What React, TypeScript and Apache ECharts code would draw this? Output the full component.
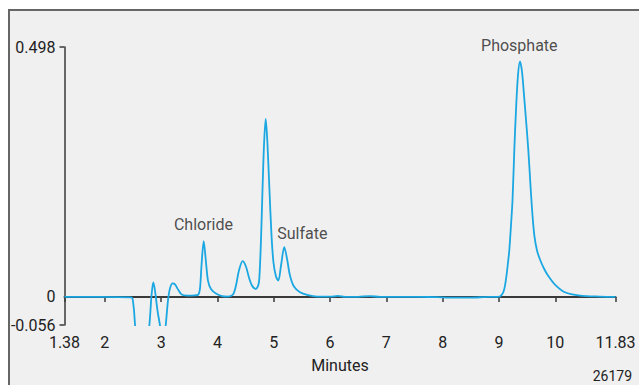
import React, { useEffect, useRef } from "react";
import * as echarts from "echarts";

// Retention time (minutes) and detector response
const TIME = [
  1.284, 1.91, 2.465, 2.491, 2.518, 2.545, 2.6, 2.65, 2.72, 2.79, 2.829, 2.861, 2.891, 2.935, 2.98,
  3.033, 3.081, 3.122, 3.157, 3.205, 3.246, 3.299, 3.365, 3.459, 3.601, 3.66, 3.69, 3.717, 3.756,
  3.797, 3.832, 3.885, 3.974, 4.081, 4.187, 4.276, 4.329, 4.382, 4.448, 4.506, 4.56, 4.613, 4.679,
  4.729, 4.747, 4.773, 4.8, 4.827, 4.857, 4.885, 4.924, 4.96, 4.995, 5.04, 5.081, 5.129, 5.187,
  5.235, 5.288, 5.359, 5.466, 5.608, 5.768, 6.0, 6.14, 6.265, 6.5, 6.709, 6.887, 7.2, 7.597, 7.9,
  8.13, 8.485, 8.84, 8.988, 9.036, 9.076, 9.107, 9.137, 9.16, 9.183, 9.213, 9.24, 9.272, 9.302,
  9.338, 9.373, 9.409, 9.444, 9.48, 9.521, 9.559, 9.595, 9.63, 9.675, 9.728, 9.799, 9.87, 9.994,
  10.172, 10.438, 10.793, 11.069,
];
const RESPONSE = [
  0.0, 0.0, -0.001, -0.003, -0.027, -0.067, -0.115, -0.13, -0.11, -0.0574, 0.0026, 0.029, 0.0126,
  -0.027, -0.057, -0.097, -0.057, -0.007, 0.017, 0.027, 0.025, 0.015, 0.0046, 0.0026, 0.0032,
  0.0046, 0.0166, 0.0626, 0.111, 0.0686, 0.0326, 0.0156, 0.0066, 0.0016, 0.0006, 0.0046, 0.0226,
  0.0526, 0.0712, 0.0606, 0.0386, 0.0226, 0.016, 0.0246, 0.0426, 0.1126, 0.2122, 0.3026, 0.3546,
  0.3126, 0.2122, 0.1226, 0.0686, 0.0406, 0.0326, 0.0626, 0.0992, 0.0766, 0.0426, 0.0206, 0.0092,
  0.0036, 0.0006, 0.0004, 0.002, 0.0, 0.0002, 0.0016, 0.0, 0.0002, 0.0, -0.0006, -0.0014, -0.0014,
  0.0, 0.0, 0.0026, 0.0092, 0.0226, 0.046, 0.0686, 0.0926, 0.1426, 0.1926, 0.2926, 0.3726, 0.4426,
  0.4692, 0.4486, 0.4026, 0.3526, 0.2926, 0.2226, 0.1626, 0.1206, 0.0926, 0.0746, 0.0566, 0.0426,
  0.0246, 0.0092, 0.0026, 0.0006, 0.0,
];

// Axis extents and tick labels
const X_MIN = 1.284;
const X_MAX = 11.069;
const X_TICK_VALUES = [X_MIN, 2, 3, 4, 5, 6, 7, 8, 9, 10, X_MAX];
const X_TICK_LABELS = ["1.38", "2", "3", "4", "5", "6", "7", "8", "9", "10", "11.83"];
const Y_MIN = -0.056;
const Y_MAX = 0.498;
const Y_TICK_VALUES = [Y_MIN, Y_MAX];
const Y_LABEL_VALUES = [Y_MIN, 0, Y_MAX];
const Y_LABEL_TEXTS = ["-0.056", "0", "0.498"];

// Peak annotations (label centre in data coordinates)
const PEAK_NAMES = ["Chloride", "Sulfate", "Phosphate"];
const PEAK_LABEL_X = [3.752, 5.507, 9.361];
const PEAK_LABEL_Y = [0.1446, 0.1256, 0.5006];

const X_NAME = "Minutes";
const FIGURE_ID = "26179";

const FONT = "Roboto, 'Liberation Sans', sans-serif";

export default function App() {
  const ref = useRef<HTMLDivElement>(null);

  useEffect(() => {
    document.body.style.margin = "0";
    const chart = echarts.init(ref.current!, null, { renderer: "svg" });
    const lineData = TIME.map((t, i) => [t, RESPONSE[i]]);
    const peakData = PEAK_NAMES.map((n, i) => ({ name: n, value: [PEAK_LABEL_X[i], PEAK_LABEL_Y[i]] }));
    const axisText = { color: "#222", fontFamily: FONT, fontSize: 16 };

    chart.setOption({
      animation: false,
      backgroundColor: "transparent",
      grid: { left: 64.5, right: 23.5, top: 47, bottom: 60, containLabel: false },
      xAxis: {
        type: "value",
        min: X_MIN,
        max: X_MAX,
        name: X_NAME,
        nameLocation: "middle",
        nameGap: 32,
        nameTextStyle: { ...axisText },
        splitLine: { show: false },
        axisLine: { lineStyle: { color: "#3a3a3a", width: 2 } },
        axisTick: {
          show: true,
          customValues: X_TICK_VALUES,
          length: 5,
          lineStyle: { color: "#3a3a3a", width: 1.5 },
        },
        axisLabel: {
          customValues: X_TICK_VALUES,
          margin: 9,
          ...axisText,
          formatter: (v: number) => {
            const i = X_TICK_VALUES.findIndex((t) => Math.abs(t - v) < 1e-6);
            return i >= 0 ? X_TICK_LABELS[i] : "";
          },
        },
      },
      yAxis: {
        type: "value",
        min: Y_MIN,
        max: Y_MAX,
        splitLine: { show: false },
        axisLine: { show: true, lineStyle: { color: "#3a3a3a", width: 1.5 } },
        axisTick: {
          show: true,
          customValues: Y_TICK_VALUES,
          length: 5,
          lineStyle: { color: "#3a3a3a", width: 1.5 },
        },
        axisLabel: {
          customValues: Y_LABEL_VALUES,
          margin: 9,
          ...axisText,
          formatter: (v: number) => {
            const i = Y_LABEL_VALUES.findIndex((t) => Math.abs(t - v) < 1e-6);
            return i >= 0 ? Y_LABEL_TEXTS[i] : "";
          },
        },
      },
      graphic: [
        {
          type: "text",
          right: 7,
          bottom: 2,
          style: { text: FIGURE_ID, fill: "#222", font: `14px ${FONT}` },
        },
      ],
      series: [
        {
          type: "line",
          data: lineData,
          showSymbol: false,
          symbol: "none",
          smooth: 0.3,
          clip: true,
          lineStyle: { color: "#1aa7e2", width: 1.8 },
          silent: true,
        },
        {
          type: "scatter",
          data: peakData,
          symbolSize: 0,
          clip: false,
          silent: true,
          label: {
            show: true,
            position: "inside",
            formatter: (p: any) => p.name,
            color: "#222",
            fontFamily: FONT,
            fontSize: 16,
          },
        },
      ],
    });
    return () => chart.dispose();
  }, []);

  return (
    <div style={{ position: "relative", width: 639, height: 385, overflow: "hidden", background: "#fff" }}>
      <div
        style={{
          position: "absolute",
          left: 8,
          top: 9,
          width: 700,
          height: 500,
          background: "#f0f0f0",
          borderTop: "2px solid #666",
          borderLeft: "2px solid #666",
        }}
      />
      <div ref={ref} style={{ position: "absolute", left: 0, top: 0, width: 639, height: 385 }} />
    </div>
  );
}
